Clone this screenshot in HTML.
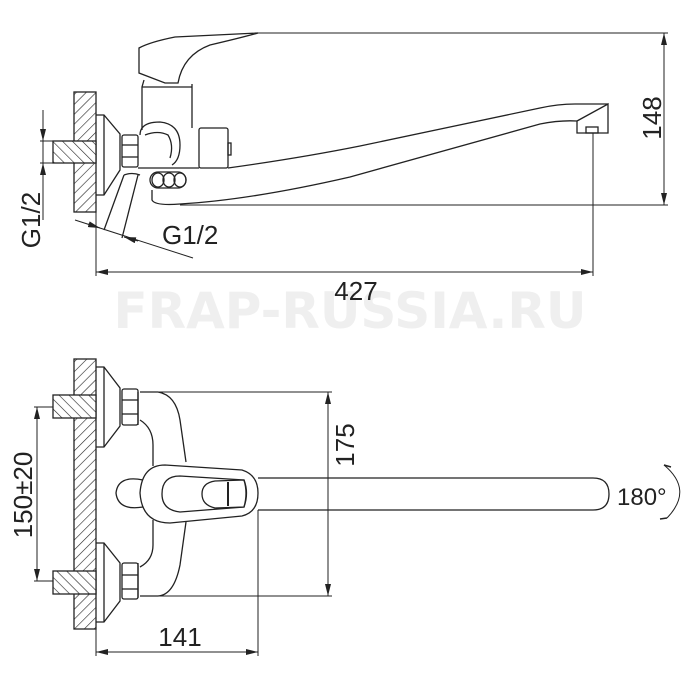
<!DOCTYPE html>
<html><head><meta charset="utf-8"><style>
html,body{margin:0;padding:0;background:#fff;width:700px;height:700px;overflow:hidden}
svg{display:block}
text{font-family:"Liberation Sans",sans-serif;fill:#222}
</style></head><body>
<svg width="700" height="700" viewBox="0 0 700 700" xmlns="http://www.w3.org/2000/svg">
<defs>
<pattern id="h" width="7" height="7" patternUnits="userSpaceOnUse" patternTransform="rotate(45)">
<rect width="7" height="7" fill="#fff"/><line x1="0" y1="0" x2="0" y2="7" stroke="#222" stroke-width="1.2"/></pattern>
<pattern id="h2" width="7" height="7" patternUnits="userSpaceOnUse" patternTransform="rotate(-45)">
<rect width="7" height="7" fill="#fff"/><line x1="0" y1="0" x2="0" y2="7" stroke="#222" stroke-width="1.2"/></pattern>
<marker id="a" markerWidth="12" markerHeight="6" refX="12" refY="3" orient="auto" markerUnits="userSpaceOnUse"><path d="M0,0 L12,3 L0,6 Z" fill="#222"/></marker>
</defs>
<text x="350" y="328" text-anchor="middle" font-size="50" font-weight="bold" style="fill:#efefef;font-family:'DejaVu Sans','Liberation Sans',sans-serif">FRAP-RUSSIA.RU</text>
<g fill="none" stroke="#222" stroke-width="1.3">
<rect x="74" y="92" width="22" height="120" fill="url(#h)"/>
<rect x="53" y="141" width="43" height="22" fill="url(#h2)"/>
<path d="M96 115 L104 115 L120 134 L120 170 L104 195 L96 195"/>
<line x1="104" y1="115" x2="104" y2="195"/>
<rect x="122" y="135" width="16" height="32" rx="2"/>
<line x1="122" y1="145" x2="138" y2="145"/><line x1="122" y1="157" x2="138" y2="157"/>
<path d="M124 175 L104 230 M138 175 L122 238 M124 175 Q132 172 140 175"/>
<path d="M139 48 L139 73 L165 83 L178 83 Q183 55 210 45 Q240 38 258 33 L175 37 Q150 42 139 48 Z"/>
<path d="M144 80 L142 87 L142 130 M192 84 L192 128"/>
<line x1="142" y1="87" x2="192" y2="87"/>
<path d="M140 135 Q140 122 160 122 Q180 124 180 145 Q180 160 172 165"/>
<path d="M145 135 Q158 130 168 135 Q174 145 170 158"/>
<rect x="199" y="128" width="29" height="40" rx="2"/>
<rect x="228" y="143" width="3" height="12"/>
<path d="M138 168 L199 168"/>
<ellipse cx="158" cy="180" rx="6" ry="7"/><ellipse cx="169" cy="180" rx="6" ry="7"/><ellipse cx="180" cy="180" rx="6" ry="7"/>
<rect x="150" y="172" width="36" height="16" rx="8"/>
<path d="M228 168 Q300 158 360 146 L540 108 Q558 104 575 104 L608 104"/>
<path d="M152 190 L152 200 Q155 206 180 204 Q250 200 350 177 L540 124 Q560 120 577 121"/>
<path d="M577 121 L608 104 L608 133 L577 133 Z"/>
<rect x="586" y="127" width="12" height="6"/>
<g stroke-width="1">
<line x1="258" y1="33" x2="668" y2="33"/>
<line x1="180" y1="205" x2="668" y2="205"/>
<line x1="664" y1="40" x2="664" y2="198"/>
<line x1="664" y1="45" x2="664" y2="33" marker-end="url(#a)"/>
<line x1="664" y1="193" x2="664" y2="205" marker-end="url(#a)"/>
<line x1="96" y1="212" x2="96" y2="276"/>
<line x1="593" y1="133" x2="593" y2="276"/>
<line x1="96" y1="272" x2="593" y2="272"/>
<line x1="110" y1="272" x2="96" y2="272" marker-end="url(#a)"/>
<line x1="579" y1="272" x2="593" y2="272" marker-end="url(#a)"/>
<line x1="40" y1="141" x2="53" y2="141"/><line x1="40" y1="163" x2="53" y2="163"/>
<line x1="43" y1="110" x2="43" y2="220"/>
<line x1="43" y1="129" x2="43" y2="141" marker-end="url(#a)"/>
<line x1="43" y1="175" x2="43" y2="163" marker-end="url(#a)"/>
<line x1="75" y1="220" x2="193" y2="258"/>
<line x1="88" y1="224" x2="100" y2="228" marker-end="url(#a)"/>
<line x1="138" y1="241" x2="124" y2="237" marker-end="url(#a)"/>
</g>
<rect x="74" y="359" width="22" height="270" fill="url(#h)"/>
<rect x="53" y="395" width="43" height="23" fill="url(#h2)"/>
<rect x="53" y="571" width="43" height="23" fill="url(#h2)"/>
<path d="M96 367 L104 367 L120 388 L120 426 L104 447 L96 447"/>
<line x1="104" y1="367" x2="104" y2="447"/>
<path d="M96 543 L104 543 L120 563 L120 601 L104 622 L96 622"/>
<line x1="104" y1="543" x2="104" y2="622"/>
<rect x="122" y="389" width="16" height="36" rx="2"/>
<line x1="122" y1="400" x2="138" y2="400"/><line x1="122" y1="414" x2="138" y2="414"/>
<rect x="122" y="563" width="16" height="36" rx="2"/>
<line x1="122" y1="575" x2="138" y2="575"/><line x1="122" y1="589" x2="138" y2="589"/>
<line x1="138" y1="392" x2="138" y2="425"/><line x1="138" y1="563" x2="138" y2="598"/>
<path d="M140 392 L158 392 Q176 395 180 420 L186 462"/>
<path d="M186 522 L180 565 Q174 595 158 596 L140 596"/>
<path d="M140 420 Q153 428 153 445 L153 466"/>
<path d="M153 520 L153 545 Q153 560 140 567"/>
<path d="M143 480 Q118 475 116 493 Q118 511 143 507"/>
<path d="M165 465 L242 470 Q258 475 258 493 Q258 512 242 516 L170 523 Q142 523 140 493 Q142 465 165 465 Z"/>
<path d="M180 476 L244 480 Q248 493 244 507 L180 512 Q162 510 162 494 Q162 476 180 476 Z"/>
<path d="M215 481 L244 480 Q249 493 244 507 L215 508 Q202 505 202 494 Q202 483 215 481 Z"/>
<line x1="228" y1="482" x2="228" y2="506" stroke-width="2"/>
<path d="M258 478 L593 478 Q609 478 609 494 Q609 510 593 510 L258 510"/>
<path d="M664 465 Q694 490 667 518" stroke-width="1"/>
<path d="M664 465 L671 467 M667 518 L660 519" stroke-width="1.5"/>
<g stroke-width="1">
<line x1="140" y1="392" x2="332" y2="392"/>
<line x1="140" y1="596" x2="332" y2="596"/>
<line x1="328" y1="392" x2="328" y2="596"/>
<line x1="328" y1="404" x2="328" y2="392" marker-end="url(#a)"/>
<line x1="328" y1="584" x2="328" y2="596" marker-end="url(#a)"/>
<line x1="34" y1="407" x2="53" y2="407"/><line x1="34" y1="581" x2="53" y2="581"/>
<line x1="37" y1="407" x2="37" y2="581"/>
<line x1="37" y1="419" x2="37" y2="407" marker-end="url(#a)"/>
<line x1="37" y1="569" x2="37" y2="581" marker-end="url(#a)"/>
<line x1="96" y1="629" x2="96" y2="656"/>
<line x1="258" y1="510" x2="258" y2="656"/>
<line x1="96" y1="652" x2="258" y2="652"/>
<line x1="110" y1="652" x2="96" y2="652" marker-end="url(#a)"/>
<line x1="244" y1="652" x2="258" y2="652" marker-end="url(#a)"/>
</g>
</g>
<g font-size="26">
<text transform="translate(661,118) rotate(-90)" text-anchor="middle">148</text>
<text x="356" y="300" text-anchor="middle">427</text>
<text transform="translate(40,220) rotate(-90)" text-anchor="middle">G1/2</text>
<text x="162" y="244">G1/2</text>
<text transform="translate(354,445) rotate(-90)" text-anchor="middle">175</text>
<text transform="translate(32,495) rotate(-90)" text-anchor="middle">150±20</text>
<text x="180" y="646" text-anchor="middle">141</text>
<text x="617" y="505" font-size="24">180°</text>
</g>
</svg>
</body></html>
